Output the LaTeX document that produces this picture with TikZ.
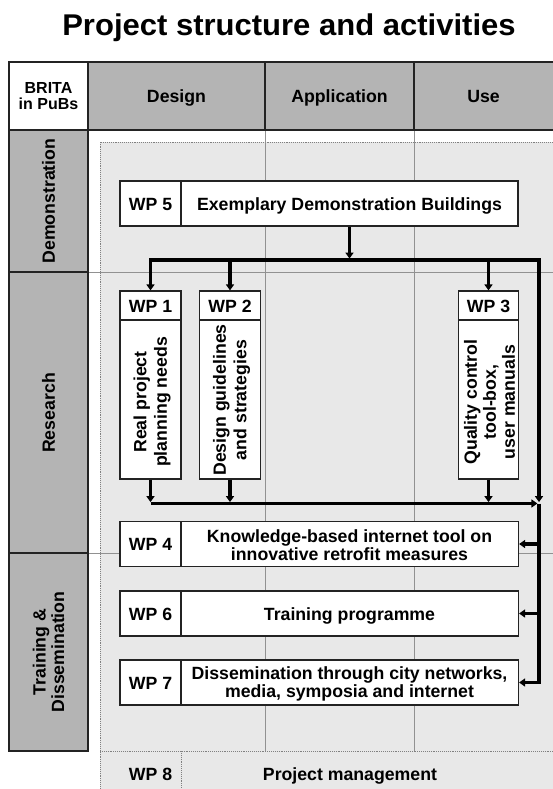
\documentclass[tikz,border=0pt]{standalone}
\usepackage{fontspec}
\setmainfont{Liberation Sans}
\usetikzlibrary{arrows.meta}
\definecolor{headgray}{RGB}{180,180,180}
\definecolor{bggray}{RGB}{232,232,232}
\definecolor{gridgray}{RGB}{145,145,145}
\definecolor{edge}{RGB}{35,35,35}
\begin{document}
\begin{tikzpicture}[x=1pt,y=-1pt,
  every node/.style={font=\bfseries\fontsize{17.7}{17.5}\selectfont, align=center, inner sep=0pt, text=black},
  one/.style={anchor=base},
  cellw/.style={draw=edge, line width=1.4pt, fill=white},
  cellg/.style={draw=edge, line width=1.4pt, fill=headgray},
  box/.style={draw=edge, line width=1.2pt, fill=white, rectangle},
  divider/.style={draw=edge, line width=1.2pt},
  gridline/.style={draw=gridgray, line width=0.8pt},
  dotline/.style={draw=gray, line width=0.9pt, densely dotted},
  vtext/.style={rotate=90, font=\bfseries\fontsize{17.7}{20.5}\selectfont},
  bus/.style={line width=3.2pt, draw=black},
  tip/.style={-{Triangle[width=8pt,length=6pt]}},
  tips/.style={{Triangle[width=8pt,length=6pt]}-{Triangle[width=8pt,length=6pt]}}
]
\useasboundingbox (0,0) rectangle (553,789);
\clip (0,0) rectangle (553,789);
\fill[white] (0,0) rectangle (553,789);

% title
\node[one, font=\bfseries\fontsize{30}{32}\selectfont] (title) at (289,36) {\scalebox{1.034}[1]{Project structure and activities}};

% light background
\fill[bggray] (100,142) rectangle (560,751);
\fill[bggray] (100,751) rectangle (560,795);
\draw[dotline] (560,142) -- (100,142) -- (100,795);
\draw[dotline] (100,751) -- (560,751);
\draw[dotline] (181,751) -- (181,795);

% grid lines
\draw[gridline] (265,130) -- (265,751);
\draw[gridline] (414,130) -- (414,751);
\draw[gridline] (88,272) -- (560,272);
\draw[gridline] (88,553) -- (560,553);

% header
\draw[cellw] (9,62) rectangle (88,130);
\draw[cellg] (88,62) rectangle (265,130);
\draw[cellg] (265,62) rectangle (414,130);
\draw[cellg] (414,62) rectangle (562,130);
\node[font=\bfseries\fontsize{16}{16.5}\selectfont] (brita) at (48.5,96) {BRITA\\in PuBs};
\node[one] (hdesign) at (176.5,102.5) {Design};
\node[one] (happ) at (339.5,102.5) {Application};
\node[one] (huse) at (483.5,102.5) {Use};

% left column
\draw[cellg] (9,130) rectangle (88,272);
\draw[cellg] (9,272) rectangle (88,553);
\draw[cellg] (9,553) rectangle (88,751);
\node[vtext] (rdemo) at (48.5,201) {Demonstration};
\node[vtext] (rres) at (48.5,413) {Research};
\node[vtext, font=\bfseries\fontsize{17.7}{18.5}\selectfont] (rtrain) at (48.5,652) {Training \&\\Dissemination};

% WP5
\node[box, minimum width=398pt, minimum height=45pt] (b5) at (319,203.5) {};
\draw[divider] (181,181) -- (181,226);
\node[one] (l5) at (150.5,210.3) {WP 5};
\node[one] (t5) at (349.5,210.3) {Exemplary Demonstration Buildings};

% WP1,2,3
\node[box, minimum width=61pt, minimum height=188pt] (b1) at (150.5,385) {};
\draw[divider] (120,320) -- (181,320);
\node[one] (l1) at (150.5,312.3) {WP 1};
\node[vtext] (t1) at (152,402) {Real project\\planning needs};

\node[box, minimum width=61pt, minimum height=188pt] (b2) at (230,385) {};
\draw[divider] (199.5,320) -- (260.5,320);
\node[one] (l2) at (230,312.3) {WP 2};
\node[vtext] (t2) at (231.5,400) {Design guidelines\\and strategies};

\node[box, minimum width=60pt, minimum height=188pt] (b3) at (488.5,385) {};
\draw[divider] (458.5,320) -- (518.5,320);
\node[one] (l3) at (488.5,312.3) {WP 3};
\node[vtext, font=\bfseries\fontsize{17.7}{19}\selectfont] (t3) at (489.5,402) {Quality control\\tool-box,\\user manuals};

% WP4,6,7
\node[box, minimum width=398.5pt, minimum height=44.5pt] (b4) at (319.25,544) {};
\draw[divider] (181,521.75) -- (181,566.25);
\node[one] (l4) at (150.5,550.8) {WP 4};
\node (t4) at (349.5,545) {Knowledge-based internet tool on\\innovative retrofit measures};

\node[box, minimum width=398.5pt, minimum height=45pt] (b6) at (319.25,613.5) {};
\draw[divider] (181,591) -- (181,636);
\node[one] (l6) at (150.5,620.3) {WP 6};
\node[one] (t6) at (349.5,620.3) {Training programme};

\node[box, minimum width=398.5pt, minimum height=45pt] (b7) at (319.25,682.5) {};
\draw[divider] (181,660) -- (181,705);
\node[one] (l7) at (150.5,689.3) {WP 7};
\node (t7) at (349.5,684) {Dissemination through city networks,\\media, symposia and internet};

% WP8
\node[one] (l8) at (150.5,780) {WP 8};
\node[one] (t8) at (350,780) {Project management};

% connectors
\coordinate (busL) at (150.5,260);
\coordinate (busR) at (539,260);
\coordinate (junc) at (539,503.5);
\coordinate (lbusL) at (150.5,503.5);

\draw[bus,tip,shorten >=1.4pt] (t5 |- b5.south) -- (t5 |- busL);
\draw[bus,tips,shorten >=1.4pt] (b1.north) -- (busL) -- (busR) -- (junc);
\draw[bus,tip] (b2.north |- busL) -- (b2.north);
\draw[bus,tip] (b3.north |- busL) -- (b3.north);

\draw[bus,tip,shorten >=1.4pt] (b1.south) -- (lbusL);
\draw[bus,tip,shorten >=1.4pt] (b2.south) -- (b2.south |- lbusL);
\draw[bus,tip,shorten >=1.4pt] (b3.south) -- (b3.south |- lbusL);
\draw[bus,tip,shorten >=1.6pt] (lbusL) -- (junc);

\draw[bus] (junc) -- (junc |- b6.east);
\draw[bus,tip] (junc |- b4.east) -- (b4.east);
\draw[bus,tip] (junc |- b6.east) -- (b6.east);
\draw[bus,tip] (junc |- b6.east) |- (b7.east);
\end{tikzpicture}
\end{document}
